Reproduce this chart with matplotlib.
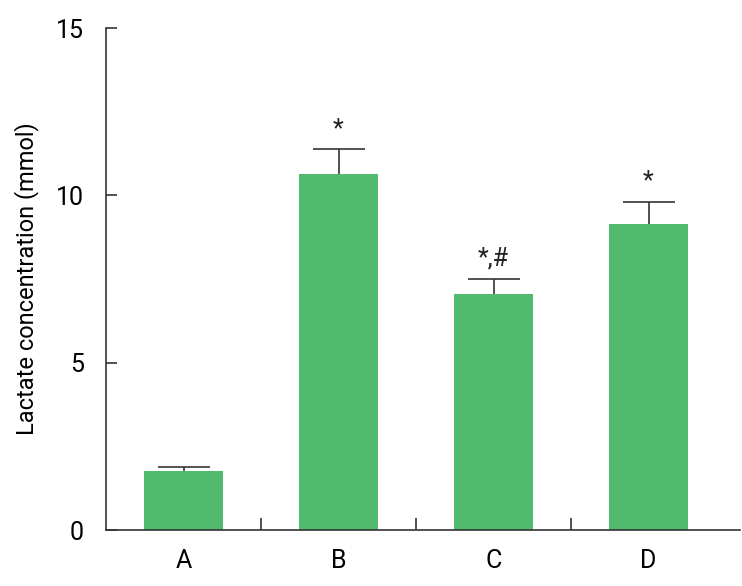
import matplotlib.pyplot as plt
import numpy as np

groups = ['A', 'B', 'C', 'D']
lactate = [1.76, 10.64, 7.05, 9.14]
sd = [0.12, 0.74, 0.45, 0.66]
marks = ['', '*', '*,#', '*']

plt.rcParams['font.family'] = ['Roboto', 'DejaVu Sans']

fig = plt.figure(figsize=(7.42, 5.86), dpi=100)
ax = fig.add_axes([106 / 742, 56 / 586, 634 / 742, 502 / 586])

x = np.arange(len(groups))
ax.bar(x, lactate, width=0.51, color='#52ba6f', edgecolor='none', zorder=2)
eb = ax.errorbar(x, lactate, yerr=[np.zeros(len(sd)), sd], fmt='none',
                 ecolor='#333333', elinewidth=1.2, capsize=19, capthick=1.2, zorder=1)
eb[1][0].set_visible(False)  # no lower caps

for xi, v, e, m in zip(x, lactate, sd, marks):
    if m:
        ax.text(xi, v + e + 0.25, m, ha='center', va='bottom', fontsize=18, color='#222222')

ax.set_xlim(-0.5, 3.59)
ax.set_ylim(0, 15)
ax.set_yticks([0, 5, 10, 15])
ax.set_xticks(x)
ax.set_xticklabels(groups)
ax.set_xticks(x[:-1] + 0.5, minor=True)
ax.tick_params(axis='x', which='major', length=0, pad=14, labelsize=18)
ax.tick_params(axis='x', which='minor', direction='in', length=9, width=1.2, color='#333333')
ax.tick_params(axis='y', direction='in', length=8, width=1.2, color='#333333', pad=16, labelsize=18)

for s in ['top', 'right']:
    ax.spines[s].set_visible(False)
for s in ['left', 'bottom']:
    ax.spines[s].set_color('#333333')
    ax.spines[s].set_linewidth(1.2)

ax.set_ylabel('Lactate concentration (mmol)', fontsize=17, labelpad=12)

fig.savefig('out.png', dpi=100)
